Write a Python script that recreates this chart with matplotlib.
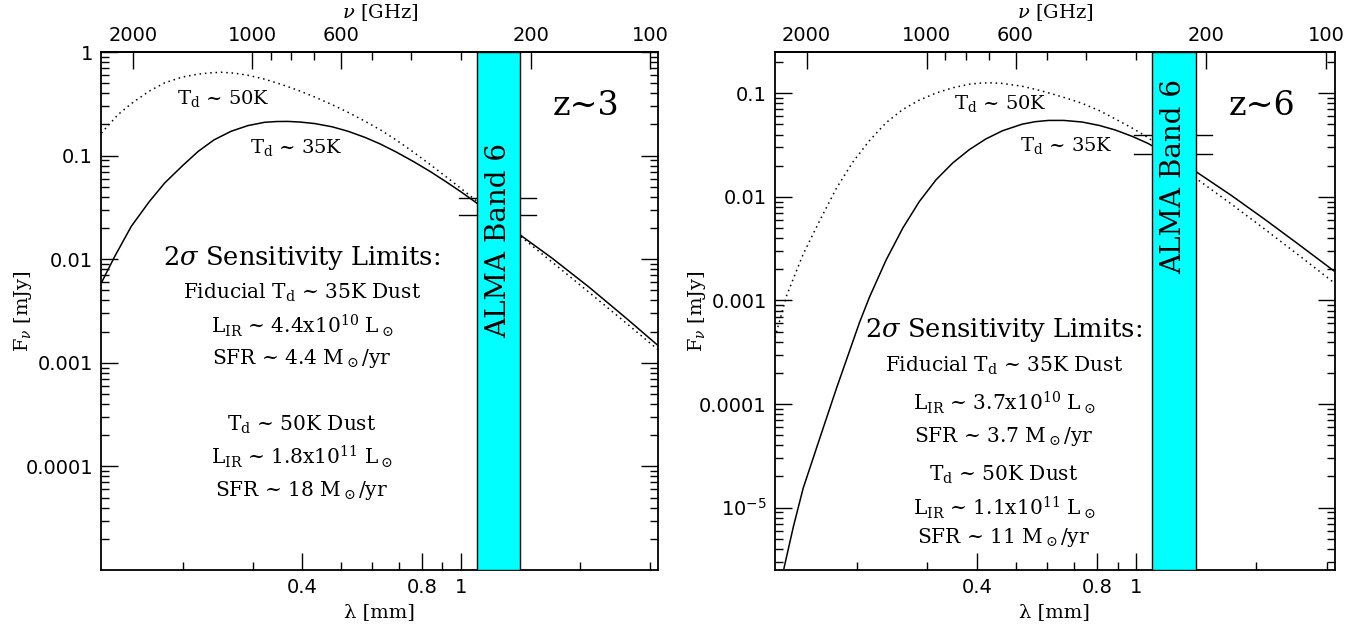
import numpy as np
import matplotlib
matplotlib.use("Agg")
import matplotlib.pyplot as plt
from matplotlib.ticker import FixedLocator, FuncFormatter, NullFormatter, LogLocator

plt.rcParams['mathtext.fontset'] = 'dejavuserif'

# values: lambda [mm], F_nu [mJy]
lam_z3_35 = [0.125, 0.135, 0.1487, 0.165, 0.1804, 0.2, 0.219, 0.24, 0.265, 0.292,
             0.322, 0.345, 0.368, 0.395, 0.43, 0.475, 0.521, 0.575, 0.627, 0.69,
             0.76, 0.84, 0.922, 1.0, 1.097, 1.409, 1.7, 2.1, 2.6, 3.14]
flux_z3_35 = [0.0059, 0.0106, 0.0208, 0.036, 0.0545, 0.080, 0.110, 0.142, 0.172, 0.195,
              0.210, 0.2135, 0.214, 0.211, 0.204, 0.19, 0.172, 0.150, 0.130, 0.108,
              0.088, 0.070, 0.0555, 0.045, 0.0349, 0.01724, 0.0102, 0.0054, 0.00272, 0.00146]

lam_z3_50 = [0.125, 0.1377, 0.1487, 0.165, 0.1804, 0.2, 0.219, 0.235, 0.25, 0.27,
             0.292, 0.322, 0.354, 0.39, 0.43, 0.475, 0.521, 0.575, 0.632, 0.69,
             0.76, 0.84, 0.922, 1.0, 1.097, 1.409, 1.7, 2.1, 2.6, 3.14]
flux_z3_50 = [0.165, 0.249, 0.318, 0.42, 0.505, 0.574, 0.612, 0.630, 0.638, 0.626,
              0.597, 0.547, 0.488, 0.428, 0.368, 0.311, 0.262, 0.215, 0.175, 0.141,
              0.1086, 0.0816, 0.0620, 0.0485, 0.0365, 0.0168, 0.00936, 0.00481, 0.00244, 0.00133]

lam_z6_35 = [0.1316, 0.139, 0.147, 0.1617, 0.178, 0.2035, 0.2155, 0.237, 0.261, 0.287,
             0.316, 0.348, 0.3825, 0.421, 0.463, 0.519, 0.56, 0.605, 0.66, 0.733,
             0.81, 0.888, 0.98, 1.074, 1.384, 1.731, 2.097, 2.538, 3.14]
flux_z6_35 = [2.6e-6, 6.6e-6, 1.54e-5, 4.66e-5, 1.41e-4, 6.17e-4, 1.082e-3, 2.452e-3, 5.0e-3, 9.0e-3,
              0.0146, 0.02125, 0.0285, 0.0362, 0.0434, 0.0503, 0.0532, 0.0547, 0.0547, 0.0528,
              0.0489, 0.0442, 0.0383, 0.0327, 0.0185, 0.01035, 0.0061, 0.00354, 0.00191]

lam_z6_50 = [0.125, 0.1337, 0.147, 0.1617, 0.178, 0.1959, 0.2155, 0.237, 0.261, 0.287,
             0.316, 0.348, 0.3825, 0.405, 0.429, 0.46, 0.519, 0.575, 0.629, 0.69,
             0.733, 0.81, 0.888, 0.98, 1.074, 1.384, 1.731, 2.097, 2.538, 3.14]
flux_z6_50 = [4.4e-4, 1.12e-3, 2.8e-3, 5.9e-3, 0.0121, 0.0218, 0.0350, 0.0520, 0.0698, 0.0858,
              0.1005, 0.1130, 0.1222, 0.1252, 0.1262, 0.1248, 0.117, 0.1065, 0.0965, 0.0865,
              0.0800, 0.0680, 0.0565, 0.0460, 0.0373, 0.016, 0.00855, 0.0049, 0.00279, 0.00147]

# ALMA band 6 in mm, and the 2-sigma limit marks
band6 = [1.10, 1.41]
sens_lam = [0.99, 1.55]
sens_z3 = [0.039, 0.0265]
sens_z6 = [0.0395, 0.026]

lam_ticks = [0.4, 0.8, 1.0]
lam_minor = [0.2, 0.3, 0.5, 0.6, 0.7, 0.9, 2.0, 3.0]
nu_ticks = [2000, 1000, 600, 200, 100]
nu_minor = [900, 800, 700, 500, 400, 300]

z3_text = [r'2$\sigma$ Sensitivity Limits:',
           r'Fiducial T$_{\rm d}$ ~ 35K Dust',
           r'L$_{\rm IR}$ ~ 4.4x10$^{10}$ L$_\odot$',
           r'SFR ~ 4.4 M$_\odot$/yr',
           r'T$_{\rm d}$ ~ 50K Dust',
           r'L$_{\rm IR}$ ~ 1.8x10$^{11}$ L$_\odot$',
           r'SFR ~ 18 M$_\odot$/yr']
z6_text = [r'2$\sigma$ Sensitivity Limits:',
           r'Fiducial T$_{\rm d}$ ~ 35K Dust',
           r'L$_{\rm IR}$ ~ 3.7x10$^{10}$ L$_\odot$',
           r'SFR ~ 3.7 M$_\odot$/yr',
           r'T$_{\rm d}$ ~ 50K Dust',
           r'L$_{\rm IR}$ ~ 1.1x10$^{11}$ L$_\odot$',
           r'SFR ~ 11 M$_\odot$/yr']

C_MM_GHZ = 299.792458
SERIF = 'DejaVu Serif'
SANS = 'DejaVu Sans'


def conv(x):
    x = np.asarray(x, dtype=float)
    with np.errstate(divide='ignore'):
        return C_MM_GHZ / x


def yfmt(v, pos):
    e = int(round(np.log10(v)))
    if e >= -4:
        return f'{v:g}'
    return r'$\mathsf{10}^{\mathsf{%d}}$' % e


def panel(ax, lam35, f35, lam50, f50, sens, ylim, ymajor, ztxt, lbl50, lbl35,
          block, block_x, block_y, band_y):
    ax.set_xscale('log')
    ax.set_yscale('log')
    ax.set_xlim(0.125, 3.14)
    ax.set_ylim(*ylim)

    ax.plot(lam35, f35, color='black', lw=1.1, zorder=2)
    ax.plot(lam50, f50, color='black', lw=1.1, ls=(0, (1, 2.5)), zorder=2)
    for s in sens:
        ax.plot(sens_lam, [s, s], color='black', lw=1.0, zorder=1)
    ax.axvspan(band6[0], band6[1], facecolor='#00ffff', edgecolor='black', lw=1.0, zorder=3)
    ax.text(np.sqrt(band6[0] * band6[1]), band_y, 'ALMA Band 6', transform=ax.get_xaxis_transform(),
            rotation=90, ha='center', va='center', fontsize=20, family=SERIF, zorder=4)

    ax.text(*lbl50, r'T$_{\rm d}$ ~ 50K', transform=ax.transAxes, ha='center', va='center',
            fontsize=14, family=SERIF)
    ax.text(*lbl35, r'T$_{\rm d}$ ~ 35K', transform=ax.transAxes, ha='center', va='center',
            fontsize=14, family=SERIF)
    ax.text(0.87, 0.895, ztxt, transform=ax.transAxes, ha='center', va='center',
            fontsize=24, family=SERIF)
    for i, (t, yy) in enumerate(zip(block, block_y)):
        ax.text(block_x, yy, t, transform=ax.transAxes, ha='center', va='center',
                fontsize=18.5 if i == 0 else 14.5, family=SERIF)

    ax.xaxis.set_major_locator(FixedLocator(lam_ticks))
    ax.xaxis.set_minor_locator(FixedLocator(lam_minor))
    ax.xaxis.set_major_formatter(FuncFormatter(lambda v, p: f'{v:g}'))
    ax.xaxis.set_minor_formatter(NullFormatter())
    ax.yaxis.set_major_locator(FixedLocator(ymajor))
    ax.yaxis.set_minor_locator(LogLocator(base=10, subs=np.arange(2, 10), numticks=20))
    ax.yaxis.set_major_formatter(FuncFormatter(yfmt))
    ax.yaxis.set_minor_formatter(NullFormatter())
    ax.tick_params(which='both', direction='in', top=False, right=True, width=1.0)
    ax.tick_params(which='major', length=12, labelsize=14, pad=6)
    ax.tick_params(which='minor', length=6)
    for lab in ax.get_xticklabels() + ax.get_yticklabels():
        lab.set_family(SANS)
    for sp in ax.spines.values():
        sp.set_linewidth(1.3)

    ax.set_xlabel('λ [mm]', family=SERIF, fontsize=14, labelpad=4)
    ax.set_ylabel(r'F$_\nu$ [mJy]', family=SERIF, fontsize=14)
    ax.yaxis.set_label_coords(-0.12, 0.5)

    sec = ax.secondary_xaxis('top', functions=(conv, conv))
    sec.xaxis.set_major_locator(FixedLocator(nu_ticks))
    sec.xaxis.set_minor_locator(FixedLocator(nu_minor))
    sec.xaxis.set_major_formatter(FuncFormatter(lambda v, p: f'{v:g}'))
    sec.xaxis.set_minor_formatter(NullFormatter())
    sec.tick_params(which='both', direction='in', width=1.0)
    sec.tick_params(which='major', length=12, labelsize=14, pad=5)
    sec.tick_params(which='minor', length=6)
    for lab in sec.get_xticklabels():
        lab.set_family(SANS)
    sec.spines['top'].set_linewidth(1.3)
    sec.set_xlabel(r'$\nu$ [GHz]', family=SERIF, fontsize=14, labelpad=6)


fig = plt.figure(figsize=(13.71, 6.34), dpi=100)
ax1 = fig.add_axes([0.0739, 0.1009, 0.4063, 0.817])
ax2 = fig.add_axes([0.5653, 0.1009, 0.4081, 0.817])

panel(ax1, lam_z3_35, flux_z3_35, lam_z3_50, flux_z3_50, sens_z3, (1e-5, 1.0),
      [1.0, 0.1, 0.01, 0.001, 1e-4], 'z~3', (0.220, 0.911), (0.351, 0.815),
      z3_text, 0.360, [0.602, 0.535, 0.471, 0.409, 0.280, 0.218, 0.154], 0.637)
panel(ax2, lam_z6_35, flux_z6_35, lam_z6_50, flux_z6_50, sens_z6, (2.5e-6, 0.25),
      [0.1, 0.01, 0.001, 1e-4, 1e-5], 'z~6', (0.402, 0.900), (0.520, 0.819),
      z6_text, 0.409, [0.463, 0.394, 0.322, 0.257, 0.183, 0.120, 0.062], 0.759)

fig.savefig('out.png', dpi=100)
